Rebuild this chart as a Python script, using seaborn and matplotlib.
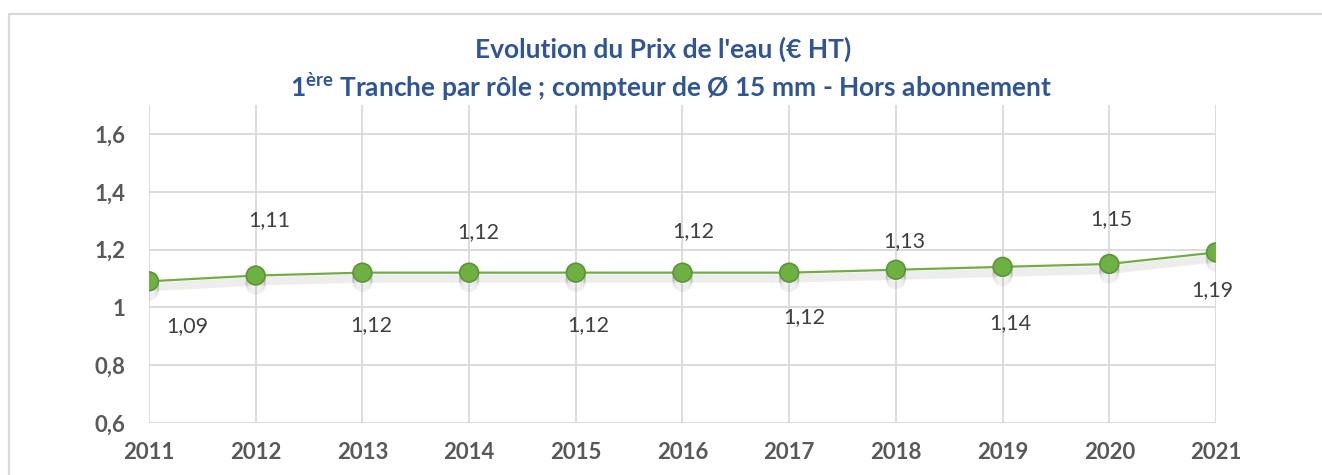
import numpy as np
import pandas as pd
import matplotlib
matplotlib.use("Agg")
import matplotlib.pyplot as plt
import matplotlib.patheffects as pe
from matplotlib.patches import Rectangle
import seaborn as sns

# values
years = [2011, 2012, 2013, 2014, 2015, 2016, 2017, 2018, 2019, 2020, 2021]
prix = [1.09, 1.11, 1.12, 1.12, 1.12, 1.12, 1.12, 1.13, 1.14, 1.15, 1.19]
y_ticks = [0.6, 0.8, 1.0, 1.2, 1.4, 1.6]

# label offsets (pixels) as placed in the original chart
label_dx = [38, 14, 9, 9, 13, 11, 15, 8, 8, 2, -4]
label_dy = [-45, 55, -52, 41, -52, 42, -44, 29, -56, 45, -38]

df = pd.DataFrame({"annee": years, "prix": prix})

sns.set_theme(style="white")
plt.rcParams["font.family"] = ["Lato", "DejaVu Sans"]
plt.rcParams["mathtext.fontset"] = "custom"
plt.rcParams["mathtext.bf"] = "Lato:bold"
plt.rcParams["mathtext.rm"] = "Lato"

fig = plt.figure(figsize=(13.22, 4.75), dpi=100)
ax = fig.add_axes([0.1127, 0.1095, 0.9198 - 0.1127, 0.779 - 0.1095])

# outer chart frame
fig.patches.append(Rectangle((9 / 1322, -0.2), 1.2, 1.2 - 14 / 475,
                             transform=fig.transFigure, fill=False,
                             edgecolor="#d9d9d9", lw=1.6, zorder=0))

green = "#70ad47"
# soft shadow under the line
shadow = [pe.SimpleLineShadow(offset=(0, -k), alpha=0.07, rho=0.2) for k in (2, 3.5, 5, 6.5)]
sns.lineplot(data=df, x="annee", y="prix", ax=ax, color=green, lw=1.6,
             marker="o", markersize=13.5, markerfacecolor="#6fb043",
             markeredgecolor="#5a9636", markeredgewidth=1.2, zorder=5,
             path_effects=shadow + [pe.Normal()])

for x, v, dx, dy in zip(years, prix, label_dx, label_dy):
    ax.annotate(f"{v:.2f}".replace(".", ","), (x, v), xytext=(dx * 0.72, dy * 0.72),
                textcoords="offset points", ha="center", va="center",
                fontsize=15.5, color="#404040")

ax.set_xlim(years[0], years[-1])
ax.set_ylim(0.6, 1.7)
ax.set_xticks(years)
ax.set_yticks(y_ticks)
ax.set_yticklabels([("%g" % t).replace(".", ",") for t in y_ticks])
ax.grid(True, color="#d9d9d9", lw=1.3)
ax.set_axisbelow(True)
for s in ax.spines.values():
    s.set_visible(False)
ax.tick_params(axis="x", pad=14, length=0, labelsize=16, labelcolor="#595959")
ax.tick_params(axis="y", pad=17, length=0, labelsize=16, labelcolor="#595959")
for lab in ax.get_xticklabels() + ax.get_yticklabels():
    lab.set_fontweight("bold")
ax.set_xlabel("")
ax.set_ylabel("")

title_col = "#2f5597"
fig.text(0.5015, 1 - 49 / 475, "Evolution du Prix de l'eau (€ HT)", ha="center",
         va="center", fontsize=19, fontweight="bold", color=title_col)
fig.text(0.5075, 1 - 87 / 475,
         "1$^{\\mathbf{ère}}$ Tranche par rôle ; compteur de Ø 15 mm - Hors abonnement",
         ha="center", va="center", fontsize=19, fontweight="bold", color=title_col)

fig.savefig("out.png", dpi=100, facecolor="white")
